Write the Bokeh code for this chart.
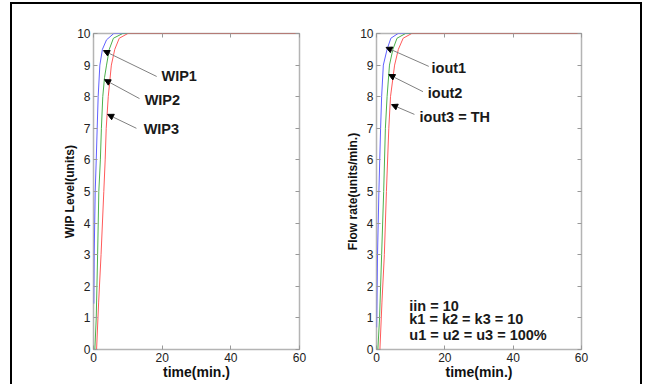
from bokeh.plotting import figure
from bokeh.models import (Range1d, FixedTicker, LinearAxis, Arrow, NormalHead,
                          ColumnDataSource, Row)
from bokeh.core.properties import value
from bokeh.embed import file_html
from bokeh.resources import INLINE

# ---------------- data ----------------
# Left panel: WIP levels (units) vs time (min.)
wip1_t = [0.1, 0.2, 0.5, 0.8, 1.07, 1.36, 1.85, 2.6, 3.8, 5.9, 60]
wip1_v = [1.45, 3.0, 5.0, 6.0, 7.0, 8.0, 9.0, 9.5, 9.8, 10.0, 10.0]
wip2_t = [0.4, 0.8, 1.2, 1.55, 2.0, 2.3, 2.7, 3.2, 3.8, 4.6, 5.8, 8.5, 60]
wip2_v = [0.0, 1.0, 3.0, 5.0, 6.0, 7.0, 8.0, 8.6, 9.0, 9.5, 9.85, 10.0, 10.0]
wip3_t = [0.9, 1.5, 2.2, 3.0, 3.4, 3.7, 4.3, 5.2, 6.2, 7.5, 10.0, 60]
wip3_v = [0.0, 1.5, 3.0, 5.0, 6.0, 7.0, 8.0, 9.0, 9.5, 9.85, 10.0, 10.0]

# Right panel: flow rates (units/min.) vs time (min.)
iout1_t = [0.05, 0.3, 0.7, 1.2, 1.5, 2.0, 3.1, 4.2, 6.3, 60]
iout1_v = [0.7, 3.0, 5.0, 7.0, 8.0, 9.0, 9.5, 9.85, 10.0, 10.0]
iout2_t = [0.4, 0.9, 1.5, 2.1, 2.6, 3.1, 3.8, 4.8, 6.0, 8.5, 60]
iout2_v = [0.0, 1.0, 3.0, 5.0, 7.0, 8.0, 9.0, 9.5, 9.85, 10.0, 10.0]
iout3_t = [1.0, 1.6, 2.3, 2.9, 3.6, 4.1, 5.3, 6.4, 7.8, 10.3, 60]
iout3_v = [0.0, 1.5, 3.0, 5.0, 7.0, 8.0, 9.0, 9.5, 9.85, 10.0, 10.0]

x_ticks = [0, 20, 40, 60]
y_ticks = [0, 1, 2, 3, 4, 5, 6, 7, 8, 9, 10]

# arrow labels (left)
left_labels = ["WIP1", "WIP2", "WIP3"]
left_label_x = [19.8, 14.9, 14.6]
left_label_y = [8.64, 7.9, 6.97]
left_arrow_x0 = [18.4, 13.4, 12.5]
left_arrow_y0 = [8.64, 7.94, 7.0]
left_arrow_x1 = [2.9, 3.2, 4.1]
left_arrow_y1 = [9.46, 8.54, 7.44]

# arrow labels (right)
right_labels = ["iout1", "iout2", "iout3 = TH"]
right_label_x = [16.1, 15.0, 12.6]
right_label_y = [8.92, 8.13, 7.37]
right_arrow_x0 = [15.3, 13.6, 11.1]
right_arrow_y0 = [8.96, 8.16, 7.44]
right_arrow_x1 = [2.8, 3.6, 4.4]
right_arrow_y1 = [9.56, 8.7, 7.75]

# parameter notes (right)
notes = ["iin = 10", "k1 = k2 = k3 = 10", "u1 = u2 = u3 = 100%"]
notes_x = [9.6, 9.6, 9.6]
notes_y = [1.39, 0.95, 0.47]

colors = ["#6060ff", "#4cb04c", "#ff5a5a"]
FONT = "Liberation Sans"
GRAY = "#b4b4b4"


def make_fig(width, mb_left, mb_right, ylabel):
    p = figure(width=width, height=380, output_backend="svg", toolbar_location=None,
               x_range=Range1d(0, 60), y_range=Range1d(0, 10),
               min_border_left=mb_left, min_border_right=mb_right,
               min_border_top=29, min_border_bottom=35,
               background_fill_color="white", border_fill_color="white")
    p.grid.visible = False
    p.outline_line_color = GRAY
    p.outline_line_width = 1.5
    for ax in p.xaxis + p.yaxis:
        ax.axis_line_color = None
        ax.major_tick_in = 4
        ax.major_tick_out = 0
        ax.minor_tick_line_color = None
        ax.major_tick_line_color = "#999999"
        ax.major_label_text_font = FONT
        ax.major_label_text_font_size = "12px"
        ax.major_label_text_color = "#222222"
        ax.axis_label_text_font = FONT
        ax.axis_label_text_font_style = "bold"
        ax.axis_label_text_color = "#111111"
        ax.major_label_standoff = 3
    p.xaxis.axis_label_standoff = -1
    p.yaxis.axis_label_standoff = -3
    p.xaxis.ticker = FixedTicker(ticks=x_ticks)
    p.yaxis.ticker = FixedTicker(ticks=y_ticks)
    p.xaxis.axis_label = "time(min.)"
    p.xaxis.axis_label_text_font_size = "14px"
    p.yaxis.axis_label = ylabel
    p.yaxis.axis_label_text_font_size = "12px"
    # mirrored tick marks (top and right), no labels
    top = LinearAxis(ticker=FixedTicker(ticks=x_ticks), axis_line_color=None,
                     major_tick_in=4, major_tick_out=0, minor_tick_line_color=None,
                     major_tick_line_color="#999999",
                     major_label_overrides={t: "" for t in x_ticks})
    right = LinearAxis(ticker=FixedTicker(ticks=y_ticks), axis_line_color=None,
                       major_tick_in=4, major_tick_out=0, minor_tick_line_color=None,
                       major_tick_line_color="#999999",
                       major_label_overrides={t: "" for t in y_ticks})
    p.add_layout(top, "above")
    p.add_layout(right, "right")
    return p


def add_arrows(p, labels, lx, ly, x0, y0, x1, y1):
    src = ColumnDataSource(dict(x0=x0, y0=y0, x1=x1, y1=y1))
    p.add_layout(Arrow(source=src, x_start="x0", y_start="y0", x_end="x1", y_end="y1",
                       line_color="#808080", line_width=1,
                       end=NormalHead(size=6, fill_color="black", line_color="black")))
    p.text(x=lx, y=ly, text=labels, text_font=value(FONT), text_font_style="bold",
           text_font_size="14.5px", text_color="#1a1a1a",
           text_align="left", text_baseline="middle")


p1 = make_fig(324, 81, 37, "WIP Level(units)")
p1.line(wip1_t, wip1_v, color=colors[0], line_width=1)
p1.line(wip2_t, wip2_v, color=colors[1], line_width=1)
p1.line(wip3_t, wip3_v, color=colors[2], line_width=1)
add_arrows(p1, left_labels, left_label_x, left_label_y,
           left_arrow_x0, left_arrow_y0, left_arrow_x1, left_arrow_y1)

p2 = make_fig(304, 40, 59, "Flow rate(units/min.)")
p2.line(iout1_t, iout1_v, color=colors[0], line_width=1)
p2.line(iout2_t, iout2_v, color=colors[1], line_width=1)
p2.line(iout3_t, iout3_v, color=colors[2], line_width=1)
add_arrows(p2, right_labels, right_label_x, right_label_y,
           right_arrow_x0, right_arrow_y0, right_arrow_x1, right_arrow_y1)
p2.text(x=notes_x, y=notes_y, text=notes, text_font=value(FONT), text_font_style="bold",
        text_font_size="14.5px", text_color="#1a1a1a",
        text_align="left", text_baseline="middle")

layout = Row(children=[p1, p2],
             styles={"border-top": "2px solid black", "border-left": "2px solid black",
                     "border-right": "2px solid black",
                     "margin-left": "10px", "margin-top": "2px"})

open("out.html", "w").write(file_html(layout, INLINE))
